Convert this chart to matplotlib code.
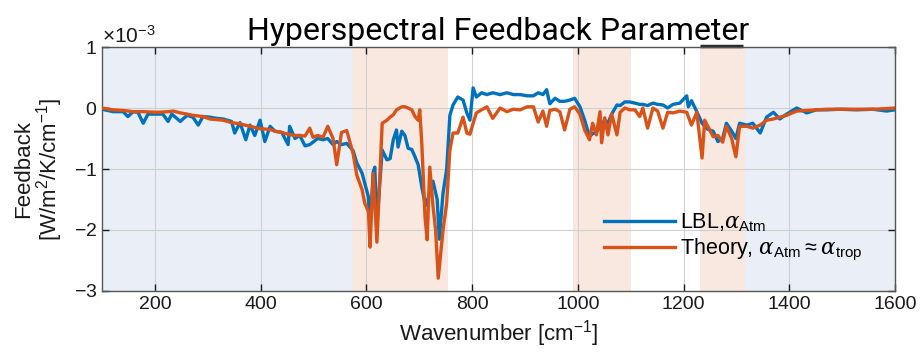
import matplotlib
matplotlib.use("Agg")
import matplotlib.pyplot as plt
from matplotlib import font_manager
from matplotlib.ticker import ScalarFormatter

# wavenumber [cm-1] and feedback [x1e-3 W/m2/K/cm-1]
lbl_wn = [100, 121, 140, 149, 159, 168, 178, 187, 204, 215, 225, 232, 248, 261, 272, 282, 291, 304,
          317, 329, 345, 351, 361, 372, 380, 389, 399, 408, 418, 427, 440, 452, 455, 465, 474, 484,
          493, 508, 518, 527, 537, 544, 553, 563, 575, 582, 592, 597, 604, 607, 613, 616, 620, 630,
          639, 645, 651, 657, 660, 667, 673, 679, 686, 692, 698, 705, 712, 720, 726, 734, 738, 745,
          752, 758, 764, 773, 783, 790, 796, 802, 808, 818, 828, 839, 853, 866, 878, 891, 904, 916,
          925, 934, 941, 947, 957, 966, 975, 985, 994, 1004, 1013, 1022, 1028, 1035, 1042, 1051,
          1057, 1064, 1074, 1080, 1089, 1098, 1108, 1117, 1123, 1132, 1142, 1151, 1161, 1170, 1180,
          1193, 1206, 1209, 1215, 1225, 1235, 1246, 1256, 1265, 1274, 1281, 1291, 1299, 1306, 1320,
          1331, 1345, 1357, 1370, 1382, 1395, 1414, 1433, 1451, 1471, 1495, 1527, 1558, 1584, 1600]
lbl_val = [-0.02, -0.06, -0.06, -0.14, -0.06, -0.07, -0.25, -0.1, -0.1, -0.1, -0.22, -0.1, -0.22,
           -0.12, -0.15, -0.28, -0.14, -0.15, -0.17, -0.18, -0.22, -0.41, -0.24, -0.52, -0.28, -0.45,
           -0.2, -0.55, -0.3, -0.38, -0.4, -0.6, -0.3, -0.5, -0.45, -0.62, -0.6, -0.5, -0.52, -0.5,
           -0.6, -0.55, -0.6, -0.58, -0.7, -0.9, -1.07, -1.23, -1.46, -2.0, -1.05, -0.97, -1.9,
           -0.69, -0.85, -0.83, -0.52, -0.36, -0.64, -0.38, -0.45, -0.66, -0.68, -0.8, -0.93, -1.3,
           -1.6, -1.4, -1.2, -1.5, -2.15, -1.4, -1.0, -0.12, 0.05, 0.18, 0.13, -0.08, -0.2, 0.33,
           0.18, 0.25, 0.22, 0.25, 0.22, 0.25, 0.22, 0.22, 0.2, 0.2, 0.25, 0.22, 0.3, 0.07, 0.16,
           0.11, 0.11, 0.13, 0.16, 0.02, -0.2, -0.47, -0.42, -0.4, -0.3, -0.2, -0.25, -0.1, 0.05,
           0.04, 0.1, 0.1, 0.08, 0.06, 0.06, 0.04, 0.08, 0.06, 0.05, 0.0, 0.06, 0.08, 0.2, 0.02,
           0.12, -0.06, -0.25, -0.35, -0.38, -0.55, -0.5, -0.25, -0.38, -0.5, -0.25, -0.28, -0.25,
           -0.41, -0.15, -0.07, -0.18, -0.1, 0.0, -0.08, -0.03, -0.03, -0.02, -0.03, -0.02, -0.05,
           -0.03]

theory_wn = [100, 121, 140, 159, 178, 204, 225, 235, 248, 261, 272, 291, 304, 317, 329, 345, 361,
             380, 399, 418, 427, 440, 452, 465, 474, 484, 493, 499, 508, 518, 527, 537, 544, 553,
             563, 575, 582, 592, 597, 604, 607, 613, 620, 630, 639, 645, 651, 657, 667, 673, 679,
             686, 692, 698, 701, 705, 711, 715, 720, 726, 731, 736, 745, 752, 758, 764, 773, 783,
             790, 796, 802, 808, 818, 828, 839, 853, 866, 878, 891, 904, 916, 925, 934, 941, 947,
             957, 966, 975, 985, 994, 1004, 1013, 1022, 1028, 1035, 1042, 1045, 1051, 1057, 1064,
             1074, 1080, 1089, 1098, 1108, 1117, 1123, 1132, 1142, 1151, 1161, 1170, 1180, 1193,
             1206, 1215, 1225, 1235, 1240, 1246, 1256, 1265, 1274, 1281, 1291, 1299, 1306, 1320,
             1331, 1345, 1357, 1370, 1382, 1395, 1414, 1433, 1451, 1471, 1495, 1527, 1558, 1584, 1600]
theory_val = [0.0, -0.03, -0.04, -0.06, -0.06, -0.07, -0.06, -0.05, -0.08, -0.1, -0.12, -0.14,
              -0.18, -0.19, -0.2, -0.24, -0.26, -0.3, -0.34, -0.35, -0.38, -0.4, -0.43, -0.45,
              -0.45, -0.46, -0.33, -0.48, -0.45, -0.48, -0.3, -0.5, -0.93, -0.4, -0.37, -0.75,
              -1.1, -1.34, -1.56, -1.7, -2.28, -1.07, -2.2, -0.25, -0.2, -0.15, -0.11, -0.03, 0.02,
              0.02, 0.0, -0.03, -0.14, -0.2, -0.03, -0.6, -1.79, -2.16, -0.97, -1.6, -2.0, -2.79,
              -2.0, -1.56, -0.69, -0.41, -0.41, -0.15, -0.41, -0.43, -0.25, -0.08, -0.03, 0.02,
              -0.17, 0.0, -0.06, -0.02, -0.03, 0.02, 0.02, -0.23, -0.05, -0.3, -0.04, -0.02, -0.06,
              -0.36, -0.02, 0.02, -0.1, -0.36, -0.52, -0.25, -0.44, -0.06, -0.57, -0.16, -0.44,
              -0.1, -0.44, -0.07, 0.0, -0.03, -0.03, -0.14, 0.0, -0.33, 0.0, -0.05, -0.33, -0.07,
              -0.08, -0.05, -0.07, -0.28, -0.07, -0.82, -0.2, -0.3, -0.47, -0.45, -0.56, -0.3,
              -0.5, -0.8, -0.3, -0.3, -0.33, -0.28, -0.2, -0.18, -0.15, -0.12, -0.05, -0.04, -0.03,
              -0.02, -0.02, -0.02, -0.02, -0.01, 0.0]

# shaded spectral bands
band_edges = [(100, 572), (572, 755), (990, 1100), (1232, 1316), (1316, 1600)]
band_kind = ["blue", "orange", "orange", "orange", "blue"]
band_colors = {"blue": "#e9eef7", "orange": "#f8e8df"}

names = {f.name for f in font_manager.fontManager.ttflist}
base = "Liberation Sans" if "Liberation Sans" in names else "DejaVu Sans"
title_font = "Liberation Sans Narrow" if "Liberation Sans Narrow" in names else "Roboto"
plt.rcParams["font.family"] = [base, "DejaVu Sans"]
plt.rcParams["mathtext.fontset"] = "custom"
plt.rcParams["mathtext.rm"] = base
plt.rcParams["mathtext.it"] = "DejaVu Serif:italic"

fig = plt.figure(figsize=(9.23, 3.57), dpi=100)
ax = fig.add_axes([0.1105, 0.1849, 0.8592, 0.6834])

for (a, b), k in zip(band_edges, band_kind):
    ax.axvspan(a, b, color=band_colors[k], lw=0, zorder=0)

ax.plot(lbl_wn, [v * 1e-3 for v in lbl_val], color="#0072BD", lw=2.4,
        label=r"LBL,$\alpha_{\rm Atm}$", zorder=3)
ax.plot(theory_wn, [v * 1e-3 for v in theory_val], color="#D95319", lw=2.4,
        label=r"Theory, $\alpha_{\rm Atm} \approx \alpha_{\rm trop}$", zorder=4)

ax.set_xlim(100, 1600)
ax.set_ylim(-3e-3, 1e-3)
ax.set_xticks([200, 400, 600, 800, 1000, 1200, 1400, 1600])
ax.set_yticks([-3e-3, -2e-3, -1e-3, 0, 1e-3])
fmt = ScalarFormatter(useMathText=True)
fmt.set_powerlimits((-2, 2))
ax.yaxis.set_major_formatter(fmt)
ax.yaxis.get_offset_text().set_fontsize(15)
ax.yaxis.get_offset_text().set_color("#444444")

ax.grid(True, color="#d0d0d0", lw=0.8, zorder=1)
ax.set_axisbelow(True)
ax.tick_params(direction="in", length=5, width=1, top=True, right=True,
               labelsize=14, colors="#1a1a1a")
for s in ax.spines.values():
    s.set_color("#555555")
    s.set_linewidth(1.0)

# dark mark along the top edge over the 1232-1316 band
ax.plot([1232, 1312], [1.01e-3, 1.01e-3], color="#2a2a2a", lw=2.5, clip_on=False,
        solid_capstyle="butt")

ax.set_xlabel(r"Wavenumber [cm$^{-1}$]", fontsize=16, color="#1a1a1a", labelpad=4)
ax.set_ylabel("Feedback\n" + r"[W/m$^2$/K/cm$^{-1}$]", fontsize=16, color="#1a1a1a",
              labelpad=6, linespacing=1.0)
ax.set_title("Hyperspectral Feedback Parameter", fontsize=23, family=title_font,
             color="black", pad=5)

ax.legend(loc="lower right", frameon=False, fontsize=15.5, handlelength=3.3,
          handletextpad=0.2, labelspacing=0.15, borderaxespad=0.2,
          bbox_to_anchor=(0.975, 0.06))

fig.savefig("out.png", dpi=100)
